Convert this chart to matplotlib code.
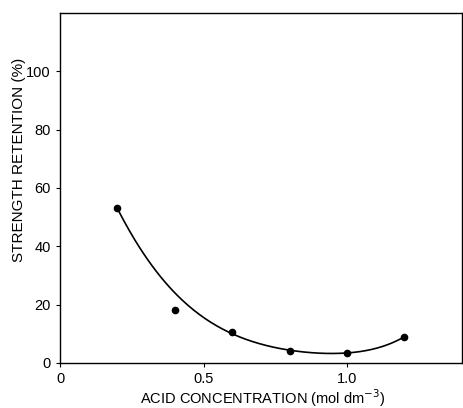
import matplotlib.pyplot as plt
import numpy as np

plt.rcParams['font.family'] = ['Liberation Sans', 'DejaVu Sans']

# measured points
conc = [0.2, 0.4, 0.6, 0.8, 1.0, 1.2]
retention = [53.3, 18.3, 10.5, 4.2, 3.5, 8.9]

# fitted curve
curve_x = [0.2, 0.25, 0.3, 0.35, 0.4, 0.45, 0.5, 0.6, 0.7, 0.8, 0.9, 1.0, 1.1, 1.2]
curve_y = [52.5, 44.6, 36.5, 29.6, 23.3, 19.3, 15.6, 10.4, 6.8, 4.2, 3.1, 3.4, 5.3, 8.9]

# smooth the hand-drawn curve
coef = np.polyfit(curve_x, curve_y, 5)
xs = np.linspace(curve_x[0], curve_x[-1], 200)
ys = np.polyval(coef, xs)

fig = plt.figure(figsize=(4.63, 4.08), dpi=100)
ax = fig.add_axes([0.1296, 0.1103, 0.868, 0.858])

ax.plot(xs, ys, color='black', lw=1.2)
ax.plot(conc, retention, 'o', color='black', ms=4.5)

ax.set_xlim(0, 1.4)
ax.set_ylim(0, 120)
ax.set_xticks([0, 0.5, 1.0])
ax.set_xticklabels(['0', '0.5', '1.0'])
ax.set_yticks([0, 20, 40, 60, 80, 100])
ax.tick_params(axis='both', labelsize=10.5, length=3, width=0.8, direction='out')
for s in ax.spines.values():
    s.set_linewidth(1.0)

ax.set_xlabel('ACID CONCENTRATION (mol dm$^{-3}$)', fontsize=10.5)
ax.set_ylabel('STRENGTH RETENTION (%)', fontsize=11)
ax.xaxis.set_label_coords(0.503, -0.068)
ax.yaxis.set_label_coords(-0.084, 0.58)

fig.savefig('out.png', dpi=100)
